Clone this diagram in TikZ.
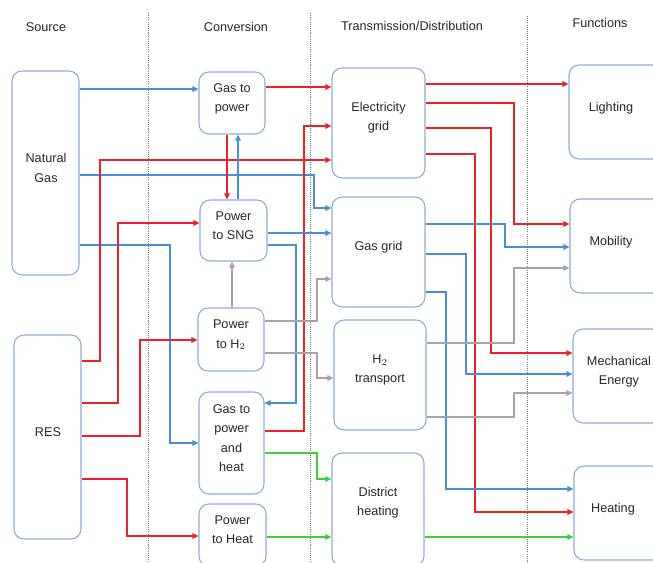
\documentclass[tikz,border=0pt]{standalone}
\usepackage{fontspec}
\setmainfont{Liberation Sans}
\usetikzlibrary{arrows.meta}
\definecolor{cblue}{RGB}{72,142,222}
\definecolor{cred}{RGB}{236,34,40}
\definecolor{cgray}{RGB}{165,165,165}
\definecolor{cgreen}{RGB}{60,210,60}
\definecolor{cbox}{RGB}{140,172,210}
\definecolor{cdot}{RGB}{120,120,120}
\begin{document}
\begin{tikzpicture}[x=0.75pt,y=-0.75pt,
  box/.style={draw=cbox, line width=0.8pt, rounded corners=7.5pt, inner sep=0pt},
  lbl/.style={font=\fontsize{9.5}{14.5}\selectfont, align=center, inner sep=0pt, text=black!85},
  hdr/.style={font=\fontsize{9.5}{12}\selectfont, inner sep=0pt, text=black!85},
  flow/.style={line width=1.1pt, -{Triangle[length=4.5pt,width=4pt]}},
  sep/.style={cdot, densely dotted, line width=0.6pt}]
\clip (0,0) rectangle (653,563);
% separators
\draw[sep] (148,13) -- (148,563);
\draw[sep] (310,13) -- (310,563);
\draw[sep] (527,16) -- (527,563);
% headers
\node[hdr] (hsrc) at (46,27) {Source};
\node[hdr] (hconv) at (236,27) {Conversion};
\node[hdr] (htd) at (412,26) {Transmission/Distribution};
\node[hdr] (hfun) at (600,23) {Functions};
% source boxes
\node[box, minimum width=50.25pt, minimum height=153pt] (ng) at (45.5,173) {};
\node[lbl] (ngl) at (46,168) {Natural\\Gas};
\node[box, minimum width=50.25pt, minimum height=153pt] (res) at (47.5,437) {};
\node[lbl] (resl) at (48,432) {RES};
% conversion boxes
\node[box, minimum width=49.5pt, minimum height=46.5pt] (gtp) at (232,103) {};
\node[lbl] (gtpl) at (232,99) {Gas to\\power};
\node[box, minimum width=50.25pt, minimum height=45.75pt] (sng) at (233.5,230.5) {};
\node[lbl] (sngl) at (233.5,226) {Power\\to SNG};
\node[box, minimum width=49.5pt, minimum height=47.25pt] (pth) at (231,339.5) {};
\node[lbl] (pthl) at (231,335) {Power\\to H$_2$};
\node[box, minimum width=48.75pt, minimum height=76.5pt] (gph) at (231.5,443) {};
\node[lbl] (gphl) at (231.5,438) {Gas to\\power\\and\\heat};
\node[box, minimum width=50.25pt, minimum height=46.5pt] (pht) at (232.5,535) {};
\node[lbl] (phtl) at (232.5,530) {Power\\to Heat};
% transmission boxes
\node[box, minimum width=69.75pt, minimum height=82.5pt] (eg) at (378.5,123) {};
\node[lbl] (egl) at (378.5,118) {Electricity\\grid};
\node[box, minimum width=69.75pt, minimum height=82.5pt] (gg) at (378.5,252) {};
\node[lbl] (ggl) at (378.5,247) {Gas grid};
\node[box, minimum width=69pt, minimum height=82.5pt] (h2t) at (380,375) {};
\node[lbl] (h2tl) at (380,370) {H$_2$\\transport};
\node[box, minimum width=69pt, minimum height=84.75pt] (dh) at (378,509.5) {};
\node[lbl] (dhl) at (378,503) {District\\heating};
% function boxes
\node[box, minimum width=72pt, minimum height=70.5pt] (lt) at (617,112) {};
\node[lbl] (ltl) at (611,108) {Lighting};
\node[box, minimum width=71.25pt, minimum height=70.5pt] (mob) at (617.5,246) {};
\node[lbl] (mobl) at (611,242) {Mobility};
\node[box, minimum width=69pt, minimum height=70.5pt] (mech) at (619,376) {};
\node[lbl] (mechl) at (619,372) {Mechanical\\Energy};
\node[box, minimum width=68.25pt, minimum height=70.5pt] (heat) at (619.5,513) {};
\node[lbl] (heatl) at (613,509) {Heating};
% ---- source -> conversion / transmission
\draw[flow,cblue] (ng.east |- 0,89) -- (gtp.west |- 0,89);
\draw[flow,cblue] (ng.east |- 0,175) -- (314,175) -- (314,208) -- (gg.west |- 0,208);
\draw[flow,cblue] (ng.east |- 0,245) -- (170,245) -- (170,443) -- (gph.west |- 0,443);
\draw[flow,cred] (res.east |- 0,361) -- (100,361) -- (100,160) -- (eg.west |- 0,160);
\draw[flow,cred] (res.east |- 0,403) -- (118,403) -- (118,223) -- (sng.west |- 0,223);
\draw[flow,cred] (res.east |- 0,436) -- (140,436) -- (140,340) -- (pth.west |- 0,340);
\draw[flow,cred] (res.east |- 0,479) -- (127,479) -- (127,536) -- (pht.west |- 0,536);
% ---- conversion internal
\draw[flow,cred] (gtp.south -| 227,0) -- (sng.north -| 227,0);
\draw[flow,cblue] (sng.north -| 238,0) -- (gtp.south -| 238,0);
\draw[flow,cgray] (pth.north -| 232,0) -- (sng.south -| 232,0);
\draw[flow,cblue] (sng.east |- 0,245) -- (296,245) -- (296,403) -- (gph.east |- 0,403);
% ---- conversion -> transmission
\draw[flow,cred] (gtp.east |- 0,87) -- (eg.west |- 0,87);
\draw[flow,cred] (gph.east |- 0,431) -- (304,431) -- (304,126) -- (eg.west |- 0,126);
\draw[flow,cblue] (sng.east |- 0,233) -- (gg.west |- 0,233);
\draw[flow,cgray] (pth.east |- 0,321) -- (317,321) -- (317,279) -- (gg.west |- 0,279);
\draw[flow,cgray] (pth.east |- 0,353) -- (317,353) -- (317,378) -- (h2t.west |- 0,378);
\draw[flow,cgreen] (gph.east |- 0,453) -- (317,453) -- (317,479) -- (dh.west |- 0,479);
\draw[flow,cgreen] (pht.east |- 0,537) -- (dh.west |- 0,537);
% ---- transmission -> functions
\draw[flow,cred] (eg.east |- 0,84) -- (lt.west |- 0,84);
\draw[flow,cred] (eg.east |- 0,103) -- (514,103) -- (514,224) -- (mob.west |- 0,224);
\draw[flow,cred] (eg.east |- 0,128) -- (491,128) -- (491,353) -- (mech.west |- 0,353);
\draw[flow,cred] (eg.east |- 0,154) -- (475,154) -- (475,512) -- (heat.west |- 0,512);
\draw[flow,cblue] (gg.east |- 0,224) -- (505,224) -- (505,247) -- (mob.west |- 0,247);
\draw[flow,cblue] (gg.east |- 0,254) -- (466,254) -- (466,374) -- (mech.west |- 0,374);
\draw[flow,cblue] (gg.east |- 0,292) -- (446,292) -- (446,489) -- (heat.west |- 0,489);
\draw[flow,cgray] (h2t.east |- 0,343) -- (514,343) -- (514,268) -- (mob.west |- 0,268);
\draw[flow,cgray] (h2t.east |- 0,417) -- (514,417) -- (514,393) -- (mech.west |- 0,393);
\draw[flow,cgreen] (dh.east |- 0,537) -- (heat.west |- 0,537);
\end{tikzpicture}
\end{document}
